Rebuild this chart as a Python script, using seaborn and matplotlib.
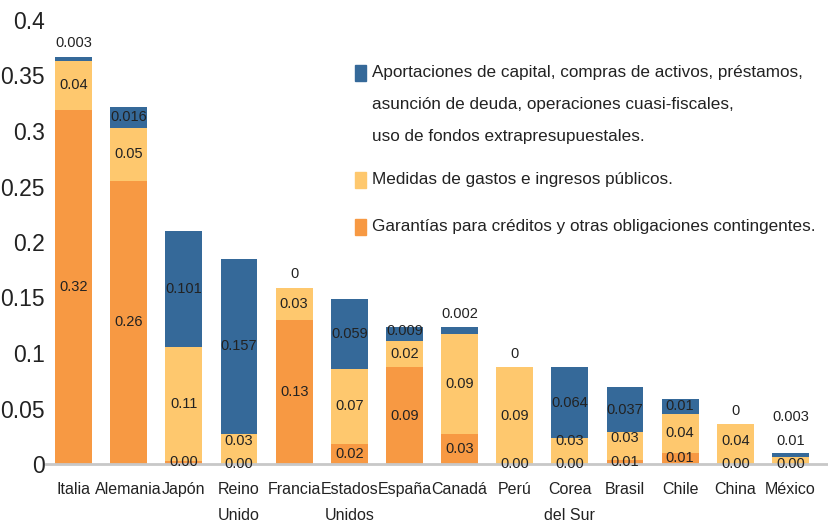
import matplotlib
matplotlib.use("Agg")
import matplotlib.pyplot as plt
from matplotlib.patches import Rectangle
import seaborn as sns
import pandas as pd

countries = ["Italia", "Alemania", "Japón", "Reino\nUnido", "Francia", "Estados\nUnidos",
             "España", "Canadá", "Perú", "Corea\ndel Sur", "Brasil", "Chile", "China", "México"]
# segment heights
guarantees = [0.319, 0.255, 0.003, 0.0, 0.130, 0.018, 0.087, 0.027, 0.0, 0.0, 0.004, 0.010, 0.0, 0.0]
spending = [0.044, 0.048, 0.102, 0.027, 0.029, 0.068, 0.024, 0.090, 0.087, 0.023, 0.025, 0.035, 0.036, 0.006]
capital = [0.004, 0.019, 0.105, 0.158, 0.0, 0.063, 0.012, 0.006, 0.0, 0.064, 0.040, 0.014, 0.0, 0.004]
# printed labels
lab_guarantees = ["0.32", "0.26", "0.00", "0.00", "0.13", "0.02", "0.09", "0.03", "0.00", "0.00",
                  "0.01", "0.01", "0.00", "0.00"]
lab_spending = ["0.04", "0.05", "0.11", "0.03", "0.03", "0.07", "0.02", "0.09", "0.09", "0.03",
                "0.03", "0.04", "0.04", "0.01"]
lab_capital = ["0.003", "0.016", "0.101", "0.157", "0", "0.059", "0.009", "0.002", "0", "0.064",
               "0.037", "0.01", "0", "0.003"]
yticks = [0, 0.05, 0.1, 0.15, 0.2, 0.25, 0.3, 0.35, 0.4]
legend_labels = ["Aportaciones de capital, compras de activos, préstamos,\nasunción de deuda, operaciones cuasi-fiscales,\nuso de fondos extrapresupuestales.",
                 "Medidas de gastos e ingresos públicos.",
                 "Garantías para créditos y otras obligaciones contingentes."]

BLUE = "#356999"
YELLOW = "#FEC86E"
ORANGE = "#F79943"
TXT = "#222222"

sns.set_theme(style="white")
plt.rcParams["font.family"] = ["Liberation Sans", "DejaVu Sans"]

df = pd.DataFrame({"country": countries, "g": guarantees, "s": spending, "c": capital})
df["gs"] = df["g"] + df["s"]
df["total"] = df["gs"] + df["c"]

fig = plt.figure(figsize=(8.29, 5.28), dpi=100)
ax = fig.add_axes([46 / 829, 64 / 528, 783 / 829, 444 / 528])

bw = 0.67
sns.barplot(data=df, x="country", y="total", color=BLUE, saturation=1, width=bw, ax=ax, linewidth=0)
sns.barplot(data=df, x="country", y="gs", color=YELLOW, saturation=1, width=bw, ax=ax, linewidth=0)
sns.barplot(data=df, x="country", y="g", color=ORANGE, saturation=1, width=bw, ax=ax, linewidth=0)

# value labels
sep = 0.021
for i, row in df.iterrows():
    y0 = row["g"] / 2
    y1 = max(row["g"] + row["s"] / 2, y0 + sep)
    if row["c"] < 0.012:
        y2 = row["total"] + 0.012
    else:
        y2 = row["gs"] + row["c"] / 2
    y2 = max(y2, y1 + sep)
    for y, t in ((y0, lab_guarantees[i]), (y1, lab_spending[i]), (y2, lab_capital[i])):
        ax.text(i, y, t, ha="center", va="center", fontsize=10.5, color=TXT, clip_on=False)

ax.set_xlim(-0.5, 13.7)
ax.set_ylim(0, 0.4)
ax.set_yticks(yticks)
ax.set_yticklabels([("%g" % v) for v in yticks], fontsize=16.5, color=TXT)
ax.set_xlabel("")
ax.set_ylabel("")
ax.tick_params(axis="y", length=0, pad=1)
ax.tick_params(axis="x", length=0, pad=13, labelsize=11.5, labelcolor=TXT)
for lab in ax.get_xticklabels():
    lab.set_linespacing(1.95)
for s in ("left", "top", "right"):
    ax.spines[s].set_visible(False)
ax.spines["bottom"].set_color("#C8C8C8")
ax.spines["bottom"].set_linewidth(2)
ax.grid(False)

# legend drawn manually
W, H = 829, 528
entries = [(BLUE, 73, legend_labels[0]), (YELLOW, 180, legend_labels[1]), (ORANGE, 227, legend_labels[2])]
for col, ypx, lab in entries:
    fig.patches.append(Rectangle((355 / W, 1 - (ypx + 8) / H), 11 / W, 16 / H,
                                 transform=fig.transFigure, color=col, zorder=5))
    lines = lab.split("\n")
    for k, line in enumerate(lines):
        fig.text(372 / W, 1 - (ypx + 32 * k) / H, line, ha="left", va="center",
                 fontsize=12.3, color=TXT)

fig.savefig("out.png", dpi=100)
